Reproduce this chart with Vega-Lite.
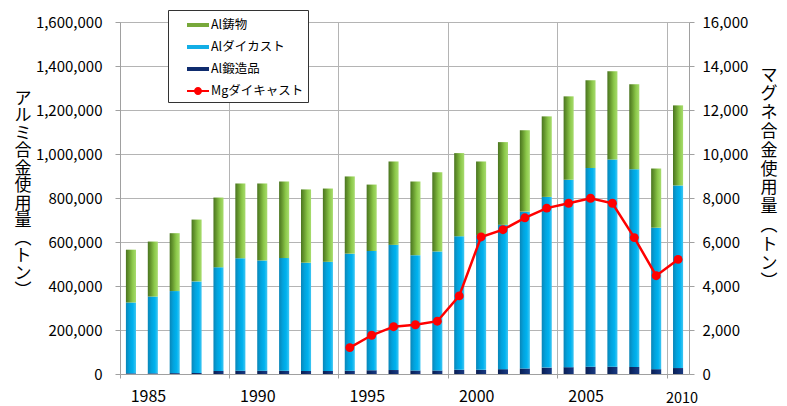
{
  "$schema": "https://vega.github.io/schema/vega-lite/v6.json",
  "width": 569,
  "height": 352,
  "autosize": {"type": "none"},
  "padding": {"left": 120, "top": 22, "right": 98, "bottom": 32},
  "background": "white",
  "config": {
    "view": {"stroke": null},
    "font": "Noto Sans CJK JP",
    "axis": {"labelFont": "Noto Sans CJK JP", "titleFont": "Noto Sans CJK JP", "labelColor": "black", "titleColor": "black", "titleFontWeight": "normal"}
  },
  "datasets": {
    "al": [
      {"year": 1985, "casting": 240000, "diecast": 322000, "forging": 3000},
      {"year": 1986, "casting": 250000, "diecast": 349000, "forging": 3000},
      {"year": 1987, "casting": 263000, "diecast": 373000, "forging": 4000},
      {"year": 1988, "casting": 281000, "diecast": 416000, "forging": 5000},
      {"year": 1989, "casting": 317000, "diecast": 471000, "forging": 14000},
      {"year": 1990, "casting": 340000, "diecast": 511000, "forging": 15000},
      {"year": 1991, "casting": 350000, "diecast": 501000, "forging": 15000},
      {"year": 1992, "casting": 348000, "diecast": 512000, "forging": 15000},
      {"year": 1993, "casting": 333000, "diecast": 492000, "forging": 14000},
      {"year": 1994, "casting": 333000, "diecast": 496000, "forging": 14000},
      {"year": 1995, "casting": 351000, "diecast": 532000, "forging": 15000},
      {"year": 1996, "casting": 302000, "diecast": 542000, "forging": 17000},
      {"year": 1997, "casting": 379000, "diecast": 569000, "forging": 18000},
      {"year": 1998, "casting": 335000, "diecast": 524000, "forging": 16000},
      {"year": 1999, "casting": 360000, "diecast": 541000, "forging": 16000},
      {"year": 2000, "casting": 378000, "diecast": 607000, "forging": 19000},
      {"year": 2001, "casting": 334000, "diecast": 613000, "forging": 19000},
      {"year": 2002, "casting": 376000, "diecast": 656000, "forging": 22000},
      {"year": 2003, "casting": 370000, "diecast": 713000, "forging": 25000},
      {"year": 2004, "casting": 366000, "diecast": 776000, "forging": 29000},
      {"year": 2005, "casting": 379000, "diecast": 852000, "forging": 31000},
      {"year": 2006, "casting": 399000, "diecast": 903000, "forging": 33000},
      {"year": 2007, "casting": 401000, "diecast": 942000, "forging": 33000},
      {"year": 2008, "casting": 386000, "diecast": 899000, "forging": 32000},
      {"year": 2009, "casting": 269000, "diecast": 643000, "forging": 22000},
      {"year": 2010, "casting": 364000, "diecast": 830000, "forging": 27000}
    ],
    "mg": [
      {"year": 1995, "tons": 1200},
      {"year": 1996, "tons": 1760},
      {"year": 1997, "tons": 2150},
      {"year": 1998, "tons": 2240},
      {"year": 1999, "tons": 2400},
      {"year": 2000, "tons": 3550},
      {"year": 2001, "tons": 6230},
      {"year": 2002, "tons": 6560},
      {"year": 2003, "tons": 7100},
      {"year": 2004, "tons": 7540},
      {"year": 2005, "tons": 7760},
      {"year": 2006, "tons": 7990},
      {"year": 2007, "tons": 7760},
      {"year": 2008, "tons": 6200},
      {"year": 2009, "tons": 4470},
      {"year": 2010, "tons": 5210}
    ]
  },
  "encoding": {
    "x": {
      "field": "year",
      "type": "ordinal",
      "scale": {"paddingInner": 0, "paddingOuter": 0},
      "axis": {
        "title": null,
        "values": [1985, 1990, 1995, 2000, 2005, 2010],
        "bandPosition": 0,
        "grid": true,
        "gridColor": "#b4b4b4",
        "domainColor": "#a0a0a0",
        "tickColor": "#a0a0a0",
        "tickSize": 4,
        "labelAngle": 0,
        "labelOverlap": false,
        "labelFontSize": {"condition": {"test": "datum.value == 2010", "value": 14.5}, "value": 16},
        "labelOffset": {"condition": {"test": "datum.value == 2010", "value": 4}, "value": 17.5},
        "labelPadding": {"condition": {"test": "datum.value == 2010", "value": 13}, "value": 10}
      }
    }
  },
  "layer": [
    {
      "data": {"name": "al"},
      "transform": [
        {"fold": ["forging", "diecast", "casting"], "as": ["type", "tons"]},
        {"stack": "tons", "groupby": ["year"], "sort": [{"field": "type", "order": "descending"}], "as": ["y0", "y1"]}
      ],
      "encoding": {
        "y": {
          "field": "y1",
          "type": "quantitative",
          "scale": {"domain": [0, 1600000]},
          "axis": {
            "values": [0, 200000, 400000, 600000, 800000, 1000000, 1200000, 1400000, 1600000],
            "format": ",d",
            "grid": true,
            "gridColor": "#b4b4b4",
            "domainColor": "#a0a0a0",
            "tickColor": "#a0a0a0",
            "tickSize": 5,
            "labelFontSize": 15,
            "labelPadding": 13,
            "title": ["ア", "ル", "ミ", "合", "金", "使", "用", "量", "︵", "ト", "ン", "︶"],
            "titleAngle": 0,
            "titleX": -97.5,
            "titleY": 68,
            "titleAlign": "center",
            "titleBaseline": "top",
            "titleFontSize": 17,
            "titleLineHeight": 17.5
          }
        },
        "y2": {"field": "y0"}
      },
      "layer": [
        {
          "transform": [{"filter": "datum.type === 'forging'"}],
          "mark": {"type": "bar", "width": {"band": 0.46}, "color": {"gradient": "linear", "x1": 0, "y1": 0, "x2": 1, "y2": 0, "stops": [{"offset": 0, "color": "#0b1f52"}, {"offset": 0.5, "color": "#0f2c6e"}, {"offset": 1, "color": "#1a3a80"}]}}
        },
        {
          "transform": [{"filter": "datum.type === 'diecast'"}],
          "mark": {"type": "bar", "width": {"band": 0.46}, "color": {"gradient": "linear", "x1": 0, "y1": 0, "x2": 1, "y2": 0, "stops": [{"offset": 0, "color": "#0a86b8"}, {"offset": 0.35, "color": "#02a2dc"}, {"offset": 0.7, "color": "#00b2ef"}, {"offset": 1, "color": "#40c6f2"}]}}
        },
        {
          "transform": [{"filter": "datum.type === 'casting'"}],
          "mark": {"type": "bar", "width": {"band": 0.46}, "color": {"gradient": "linear", "x1": 0, "y1": 0, "x2": 1, "y2": 0, "stops": [{"offset": 0, "color": "#4a7420"}, {"offset": 0.3, "color": "#67992f"}, {"offset": 0.65, "color": "#8cc84a"}, {"offset": 1, "color": "#a8dc6e"}]}}
        }
      ]
    },
    {
      "data": {"name": "mg"},
      "encoding": {
        "y": {
          "field": "tons",
          "type": "quantitative",
          "scale": {"domain": [0, 16000]},
          "axis": {
            "orient": "right",
            "values": [0, 2000, 4000, 6000, 8000, 10000, 12000, 14000, 16000],
            "format": ",d",
            "grid": false,
            "domainColor": "#a0a0a0",
            "tickColor": "#a0a0a0",
            "tickSize": 5,
            "labelFontSize": 15,
            "labelPadding": 8,
            "title": ["マ", "グ", "ネ", "合", "金", "使", "用", "量", "︵", "ト", "ン", "︶"],
            "titleAngle": 0,
            "titleX": 79.5,
            "titleY": 45,
            "titleAlign": "center",
            "titleBaseline": "top",
            "titleFontSize": 17,
            "titleLineHeight": 18.8
          }
        }
      },
      "layer": [
        {
          "mark": {"type": "line", "strokeWidth": 2.5},
          "encoding": {
            "color": {
              "datum": "Mgダイキャスト",
              "scale": {"domain": ["Al鋳物", "Alダイカスト", "Al鍛造品", "Mgダイキャスト"], "range": ["#77a83a", "#12aee6", "#0f2c6e", "#ff0000"]},
              "legend": {
                "orient": "none",
                "legendX": 48,
                "legendY": -12,
                "title": null,
                "fillColor": "white",
                "strokeColor": "#333333",
                "padding": 4,
                "rowPadding": 4,
                "labelFont": "Noto Sans CJK JP",
                "labelFontSize": 12.5,
                "labelColor": "black",
                "labelOffset": 17,
                "symbolSize": 484,
                "labelExpr": "datum.label + '\u3000'",
                "encode": {
                  "symbols": {
                    "update": {
                      "shape": {"signal": "datum.value === 'Mgダイキャスト' ? 'M0.364,-0.09H2.364V0.09H0.364Z M1.728,0A0.364,0.364 0 1,1 1.0,0A0.364,0.364 0 1,1 1.728,0Z' : 'M0.364,-0.18H2.364V0.18H0.364Z'"},
                      "fill": {"scale": "color", "field": "value"},
                      "stroke": {"value": "transparent"},
                      "strokeWidth": {"value": 0},
                      "opacity": {"value": 1}
                    }
                  }
                }
              }
            }
          }
        },
        {
          "mark": {"type": "point", "filled": true, "size": 80, "color": "#ff0000", "opacity": 1}
        }
      ]
    }
  ],
  "resolve": {"scale": {"y": "independent"}}
}
